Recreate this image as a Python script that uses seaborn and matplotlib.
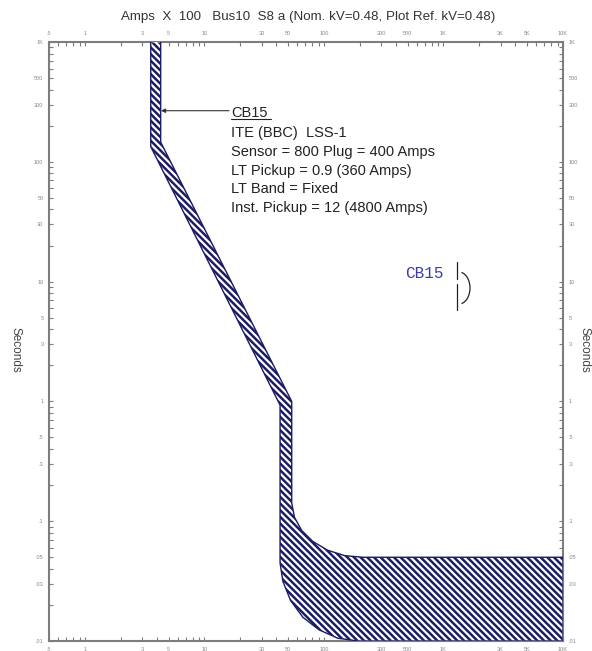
import pandas as pd
import seaborn as sns
import matplotlib.pyplot as plt
from matplotlib.patches import Arc
from matplotlib.ticker import LogLocator, NullFormatter

# Curva do disjuntor CB15 (corrente em Amps x 100, tempo em segundos)
max_amps = [4.3, 4.3, 53.7, 53.7, 56.6, 64.9, 80.6, 107, 148.8, 212, 10000]
max_secs = [1000, 146, 1.0, 0.142, 0.108, 0.0839, 0.0678, 0.0573, 0.0516, 0.05, 0.05]
min_amps = [3.55, 3.55, 42.9, 42.9, 45.2, 52.5, 66.5, 90.8, 130.5, 193, 10000]
min_secs = [1000, 134, 0.93, 0.045, 0.0317, 0.0218, 0.0158, 0.0124, 0.01055, 0.01, 0.01]

x_ticks = [0.5, 1, 3, 5, 10, 30, 50, 100, 300, 500, 1000, 3000, 5000, 10000]
x_labels = ['.5', '1', '3', '5', '10', '30', '50', '100', '300', '500', '1K', '3K', '5K', '10K']
y_ticks = [0.01, 0.03, 0.05, 0.1, 0.3, 0.5, 1, 3, 5, 10, 30, 50, 100, 300, 500, 1000]
y_labels = ['.01', '.03', '.05', '.1', '.3', '.5', '1', '3', '5', '10', '30', '50', '100', '300', '500', '1K']

info_lines = ['ITE (BBC)  LSS-1',
              'Sensor = 800 Plug = 400 Amps',
              'LT Pickup = 0.9 (360 Amps)',
              'LT Band = Fixed',
              'Inst. Pickup = 12 (4800 Amps)']

sns.set_style('white')
plt.rcParams['font.family'] = ['Liberation Sans', 'DejaVu Sans']
plt.rcParams['hatch.linewidth'] = 1.6

W, H = 592, 651
navy = '#1b1b66'
cinza = '#7d7d7d'


def px(x, y):
    # pixel -> fracao da figura
    return x / W, 1 - y / H


fig = plt.figure(figsize=(W / 100, H / 100), dpi=100, facecolor='white')
ax = fig.add_axes([49 / W, 1 - 641 / H, (563 - 49) / W, 599 / H])
ax.set_xscale('log')
ax.set_yscale('log')

# faixa hachurada
poly = pd.DataFrame({'amps': max_amps + min_amps[::-1], 'secs': max_secs + min_secs[::-1]})
ax.fill(poly['amps'], poly['secs'], facecolor=navy, edgecolor='none', zorder=2)
ax.fill(poly['amps'], poly['secs'], facecolor='none', edgecolor='white', hatch='\\' * 5,
        linewidth=0, zorder=3)
sns.lineplot(data=poly, x='amps', y='secs', sort=False, estimator=None, color=navy,
             linewidth=1, ax=ax, zorder=4)

ax.set_xlim(0.5, 10000)
ax.set_ylim(0.01, 1000)
ax.set_xlabel('')
ax.set_ylabel('')

ax.set_xticks(x_ticks)
ax.set_xticklabels(x_labels)
ax.set_yticks(y_ticks)
ax.set_yticklabels(y_labels)
ax.xaxis.set_minor_locator(LogLocator(base=10, subs=range(1, 10), numticks=20))
ax.yaxis.set_minor_locator(LogLocator(base=10, subs=range(1, 10), numticks=20))
ax.xaxis.set_minor_formatter(NullFormatter())
ax.yaxis.set_minor_formatter(NullFormatter())

ax.tick_params(which='both', direction='in', top=True, right=True, bottom=True, left=True,
               labeltop=True, labelright=True, labelsize=4, labelcolor='#888888',
               color=cinza, length=3, width=0.8)
ax.tick_params(axis='x', which='major', pad=4)
ax.tick_params(axis='y', which='major', pad=4)
for s in ax.spines.values():
    s.set_color(cinza)
    s.set_linewidth(1.5)

# titulo e eixos
fig.text(*px(308, 17), 'Amps  X  100   Bus10  S8 a (Nom. kV=0.48, Plot Ref. kV=0.48)',
         ha='center', va='center', fontsize=9.6, color='#333333')
fig.text(*px(15, 350), 'Seconds', rotation=-90, ha='center', va='center', fontsize=8.5, color='#444444')
fig.text(*px(585, 350), 'Seconds', rotation=-90, ha='center', va='center', fontsize=8.5, color='#444444')

# rotulo do disjuntor com seta
ax.annotate('', xy=px(161, 110.7), xycoords='figure fraction',
            xytext=px(229, 110.7), textcoords='figure fraction',
            arrowprops=dict(arrowstyle='-|>', color='#333333', lw=0.8, mutation_scale=6,
                            shrinkA=0, shrinkB=0))
fig.text(*px(231, 117), 'CB15', ha='left', va='baseline', fontsize=10.5, color='#222222')
fig.add_artist(plt.Line2D([231 / W, 271 / W], [1 - 119 / H, 1 - 119 / H], color='#222222', lw=0.8))
for i, linha in enumerate(info_lines):
    fig.text(*px(231, 137.3 + i * 18.6), linha, ha='left', va='baseline', fontsize=10.5, color='#222222')

# simbolo do disjuntor
fig.text(*px(424, 273), 'CB15', ha='center', va='center', fontsize=11.5,
         family=['Liberation Mono', 'DejaVu Sans Mono'], color='#3c3ca8')
fig.add_artist(plt.Line2D([457 / W, 457 / W], [1 - 262 / H, 1 - 279 / H], color='#222222', lw=0.9))
fig.add_artist(plt.Line2D([457 / W, 457 / W], [1 - 284 / H, 1 - 310 / H], color='#222222', lw=0.9))
fig.add_artist(Arc(px(459, 288), 22 / W, 32 / H, theta1=-80, theta2=80,
                   transform=fig.transFigure, color='#222222', lw=0.9))

plt.savefig('out.png', dpi=100, facecolor='white')
plt.close()
